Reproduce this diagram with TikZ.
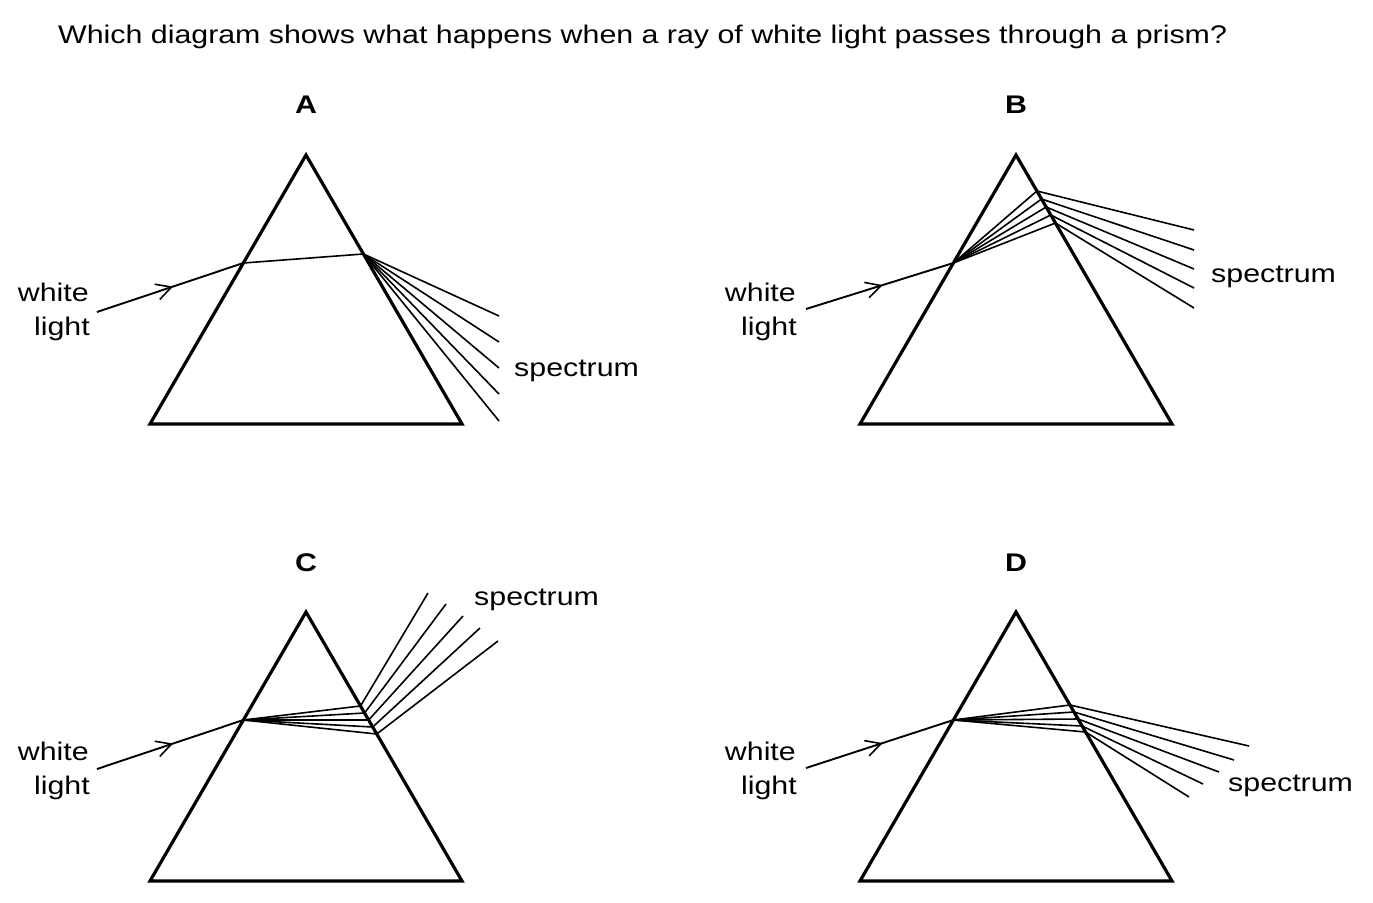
\documentclass[tikz,border=0pt]{standalone}
\usepackage{fontspec}
\setmainfont[FakeStretch=1.19]{Liberation Sans}
\usetikzlibrary{arrows.meta,decorations.markings,calc}
\tikzset{
  prism/.style={draw, line width=3.2pt, line join=miter},
  ray/.style={line width=1.6pt},
  inray/.style={line width=1.9pt, postaction={decorate},
    decoration={markings, mark=at position 0.52 with {\arrow{Straight Barb[length=15pt,width=16pt,line width=1.6pt]}}}},
  txt/.style={inner sep=0pt, font=\fontsize{25.5}{34}\selectfont},
  ttl/.style={inner sep=0pt, font=\bfseries\fontsize{25.5}{34}\selectfont}
}
\begin{document}
\begin{tikzpicture}[x=1pt,y=-1pt]
\useasboundingbox[fill=white] (0,0) rectangle (1373,902);

\node[txt, anchor=base west] (title) at (58,43) {Which diagram shows what happens when a ray of white light passes through a prism?};

% ---------------- A ----------------
\node[ttl, anchor=base] (labA) at (306,113) {A};
\coordinate (Aa) at (306,155); \coordinate (Al) at (150,424); \coordinate (Ar) at (462,424);
\draw[prism] (Aa) -- (Al) -- (Ar) -- cycle;
\coordinate (Ain) at ($(Aa)!0.4015!(Al)$);
\coordinate (Aout) at ($(Aa)!0.368!(Ar)$);
\coordinate (Asrc) at (97,312);
\draw[inray] (Asrc) -- (Ain);
\draw[ray] (Ain) -- (Aout);
\foreach \y [count=\i] in {316,342,368,394,421} {
  \coordinate (Ae\i) at (499,\y);
  \draw[ray] (Aout) -- (Ae\i);
}
\node[txt, anchor=base east] (wA1) at (89,301) {white};
\node[txt, anchor=base east] (wA2) at (90,335) {light};
\node[txt, anchor=base west] (sA) at (514,376) {spectrum};

% ---------------- B ----------------
\node[ttl, anchor=base] (labB) at (1016,113) {B};
\coordinate (Ba) at (1016,155); \coordinate (Bl) at (860,424); \coordinate (Br) at (1172,424);
\draw[prism] (Ba) -- (Bl) -- (Br) -- cycle;
\coordinate (Bin) at ($(Ba)!0.4015!(Bl)$);
\coordinate (Bsrc) at (806,309);
\draw[inray] (Bsrc) -- (Bin);
\foreach \t/\y [count=\i] in {0.1338/230,0.1636/250,0.1933/269,0.2230/288,0.2528/308} {
  \coordinate (Bo\i) at ($(Ba)!\t!(Br)$);
  \coordinate (Be\i) at (1194,\y);
  \draw[ray] (Bin) -- (Bo\i) -- (Be\i);
}
\node[txt, anchor=base east] (wB1) at (796,301) {white};
\node[txt, anchor=base east] (wB2) at (797,335) {light};
\node[txt, anchor=base west] (sB) at (1211,282) {spectrum};

% ---------------- C ----------------
\node[ttl, anchor=base] (labC) at (306,571) {C};
\coordinate (Ca) at (306,612); \coordinate (Cl) at (150,881); \coordinate (Cr) at (462,881);
\draw[prism] (Ca) -- (Cl) -- (Cr) -- cycle;
\coordinate (Cin) at ($(Ca)!0.4015!(Cl)$);
\coordinate (Csrc) at (97,769);
\draw[inray] (Csrc) -- (Cin);
\foreach \t/\x/\y [count=\i] in {0.3494/428/593,0.3755/446/604,0.4015/463/616,0.4275/480/628,0.4535/498/641} {
  \coordinate (Co\i) at ($(Ca)!\t!(Cr)$);
  \coordinate (Ce\i) at (\x,\y);
  \draw[ray] (Cin) -- (Co\i) -- (Ce\i);
}
\node[txt, anchor=base east] (wC1) at (89,760) {white};
\node[txt, anchor=base east] (wC2) at (90,794) {light};
\node[txt, anchor=base west] (sC) at (474,605) {spectrum};

% ---------------- D ----------------
\node[ttl, anchor=base] (labD) at (1016,571) {D};
\coordinate (Da) at (1016,612); \coordinate (Dl) at (860,881); \coordinate (Dr) at (1172,881);
\draw[prism] (Da) -- (Dl) -- (Dr) -- cycle;
\coordinate (Din) at ($(Da)!0.4015!(Dl)$);
\coordinate (Dsrc) at (806,768);
\draw[inray] (Dsrc) -- (Din);
\foreach \t/\x/\y [count=\i] in {0.3457/1249/746,0.3717/1234/760,0.3978/1219/772,0.4238/1203/784,0.4461/1189/797} {
  \coordinate (Do\i) at ($(Da)!\t!(Dr)$);
  \coordinate (De\i) at (\x,\y);
  \draw[ray] (Din) -- (Do\i) -- (De\i);
}
\node[txt, anchor=base east] (wD1) at (796,760) {white};
\node[txt, anchor=base east] (wD2) at (797,794) {light};
\node[txt, anchor=base west] (sD) at (1228,791) {spectrum};
\end{tikzpicture}
\end{document}
